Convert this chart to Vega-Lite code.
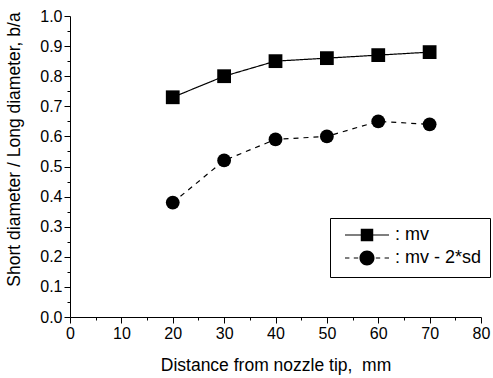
{
  "$schema": "https://vega.github.io/schema/vega-lite/v6.json",
  "width": 411,
  "height": 301,
  "autosize": "none",
  "padding": {"left": 70, "top": 16, "right": 12, "bottom": 61},
  "background": "white",
  "config": {
    "view": {"stroke": null},
    "font": "Liberation Sans",
    "axis": {
      "grid": false,
      "domainColor": "black",
      "domainWidth": 1,
      "tickColor": "black",
      "tickWidth": 1,
      "labelColor": "black",
      "titleColor": "black",
      "labelFontSize": 16,
      "titleFontSize": 17.5,
      "titleFontWeight": "normal",
      "labelFont": "Liberation Sans",
      "titleFont": "Liberation Sans"
    }
  },
  "data": {
    "values": [
      {"distance": 20, "ratio": 0.73, "series": "mv"},
      {"distance": 30, "ratio": 0.80, "series": "mv"},
      {"distance": 40, "ratio": 0.85, "series": "mv"},
      {"distance": 50, "ratio": 0.86, "series": "mv"},
      {"distance": 60, "ratio": 0.87, "series": "mv"},
      {"distance": 70, "ratio": 0.88, "series": "mv"},
      {"distance": 20, "ratio": 0.38, "series": "mv - 2*sd"},
      {"distance": 30, "ratio": 0.52, "series": "mv - 2*sd"},
      {"distance": 40, "ratio": 0.59, "series": "mv - 2*sd"},
      {"distance": 50, "ratio": 0.60, "series": "mv - 2*sd"},
      {"distance": 60, "ratio": 0.65, "series": "mv - 2*sd"},
      {"distance": 70, "ratio": 0.64, "series": "mv - 2*sd"}
    ]
  },
  "encoding": {
    "x": {
      "field": "distance",
      "type": "quantitative",
      "scale": {"domain": [0, 80], "nice": false, "zero": false},
      "axis": {
        "title": "Distance from nozzle tip,\u00a0 mm",
        "values": [0, 5, 10, 15, 20, 25, 30, 35, 40, 45, 50, 55, 60, 65, 70, 75, 80],
        "labelExpr": "datum.value % 10 === 0 ? datum.label : ''",
        "tickSize": {"condition": {"test": "datum.value % 10 !== 0", "value": 3}, "value": 6},
        "labelPadding": 2,
        "titlePadding": 15,
        "labelFlush": false
      }
    },
    "y": {
      "field": "ratio",
      "type": "quantitative",
      "scale": {"domain": [0, 1], "nice": false},
      "axis": {
        "title": "Short diameter / Long diameter, b/a",
        "values": [0, 0.05, 0.1, 0.15, 0.2, 0.25, 0.3, 0.35, 0.4, 0.45, 0.5, 0.55, 0.6, 0.65, 0.7, 0.75, 0.8, 0.85, 0.9, 0.95, 1.0],
        "labelExpr": "round(datum.value * 100) % 10 === 0 ? format(datum.value, '.1f') : ''",
        "tickSize": {"condition": {"test": "round(datum.value * 100) % 10 !== 0", "value": 3}, "value": 6},
        "labelPadding": 2,
        "titleX": -56,
        "titleY": 133,
        "titleBaseline": "middle",
        "titleAlign": "center",
        "labelFlush": false
      }
    }
  },
  "layer": [
    {
      "mark": {"type": "line", "color": "black", "strokeWidth": 1.2},
      "encoding": {
        "strokeDash": {
          "field": "series",
          "type": "nominal",
          "scale": {"domain": ["mv - 2*sd", "mv"], "range": [[5, 5], [1, 0]]},
          "legend": null
        }
      }
    },
    {
      "mark": {"type": "point", "filled": true, "color": "black", "size": 190, "opacity": 1},
      "encoding": {
        "shape": {
          "field": "series",
          "type": "nominal",
          "scale": {"domain": ["mv - 2*sd", "mv"], "range": ["circle", "square"]},
          "legend": null
        }
      }
    },
    {
      "transform": [{"filter": "false"}],
      "mark": {"type": "point", "filled": true, "color": "black", "size": 256, "opacity": 1},
      "encoding": {
        "shape": {
          "field": "series",
          "type": "nominal",
          "scale": {
            "domain": ["mv", "mv - 2*sd"],
            "range": [
              "M-2.75,-0.075H2.75V0.075H-2.75Z M-0.78,-0.78H0.78V0.78H-0.78Z",
              "M-2.75,-0.075H-2.2V0.075H-2.75Z M-1.65,-0.075H-1.1V0.075H-1.65Z M1.1,-0.075H1.65V0.075H1.1Z M2.2,-0.075H2.75V0.075H2.2Z M-0.94,0A0.94,0.94 0 1,1 0.94,0A0.94,0.94 0 1,1 -0.94,0Z"
            ]
          },
          "legend": {
            "title": null,
            "orient": "none",
            "legendX": 260,
            "legendY": 202,
            "strokeColor": "black",
            "fillColor": "white",
            "padding": 8,
            "symbolSize": 256,
            "symbolOffset": 20,
            "labelOffset": 19,
            "labelFontSize": 18,
            "labelColor": "black",
            "labelFont": "Liberation Sans",
            "rowPadding": 2,
            "labelExpr": "': ' + datum.label"
          }
        }
      }
    }
  ],
  "resolve": {"scale": {"shape": "independent"}, "legend": {"shape": "independent"}}
}
